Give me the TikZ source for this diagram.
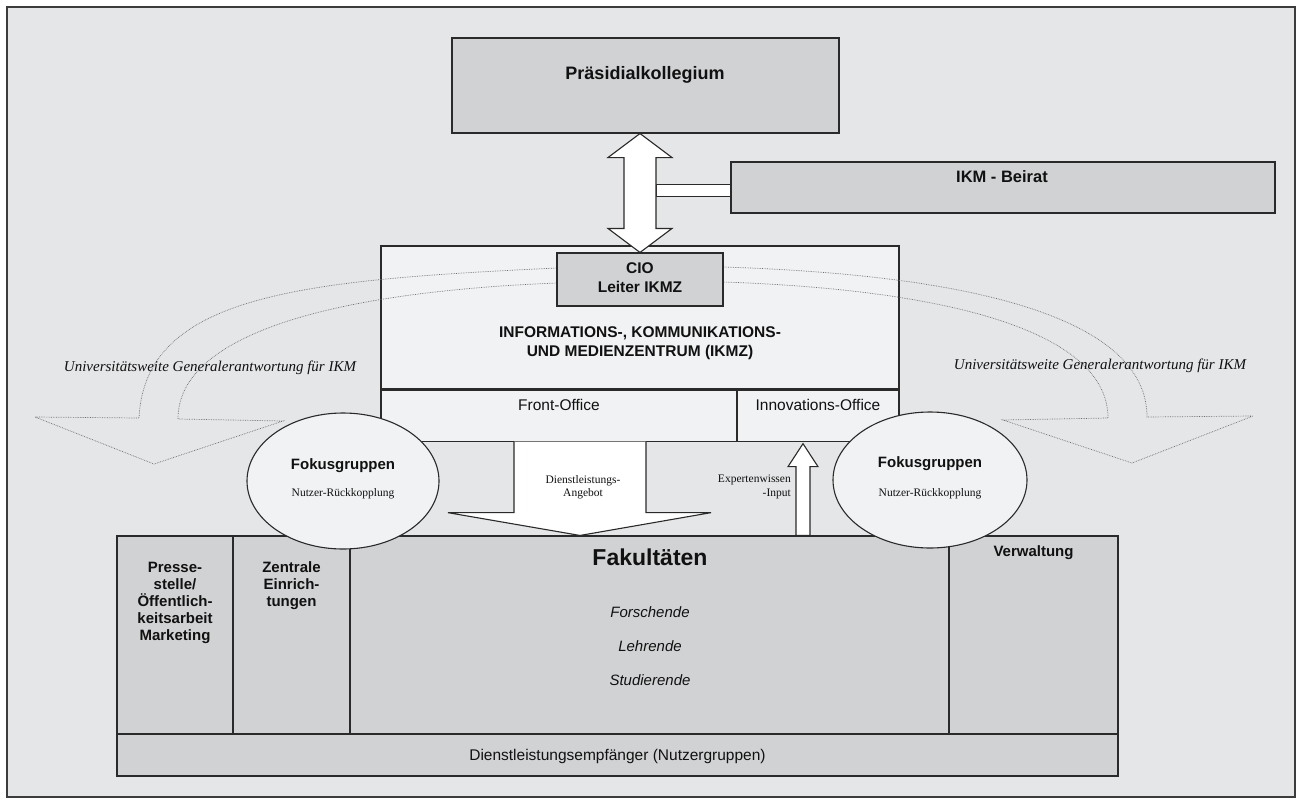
\documentclass[tikz,border=0pt]{standalone}
\usepackage{fontspec}
\setmainfont{Liberation Serif}
\setsansfont{Liberation Sans}
\usetikzlibrary{shapes.geometric,calc}
\definecolor{bgc}{HTML}{E5E6E8}
\definecolor{boxc}{HTML}{D1D2D4}
\definecolor{lightc}{HTML}{F1F2F4}
\definecolor{linec}{HTML}{2A2A2A}
\definecolor{borderc}{HTML}{3C3C3C}
\definecolor{dotc}{HTML}{6E6E6E}
\definecolor{txtc}{HTML}{111111}
\begin{document}
\begin{tikzpicture}[x=1pt,y=-1pt,
  graybox/.style={draw=linec, line width=1.1pt, fill=boxc, inner sep=0pt, rectangle},
  lightbox/.style={draw=linec, line width=1.1pt, fill=lightc, inner sep=0pt, rectangle},
  blockarrow/.style={draw=linec, line width=1.1pt, fill=white, line join=miter},
  dotarrow/.style={draw=dotc, densely dotted, line width=0.7pt},
  txt/.style={inner sep=0pt, align=center, text=txtc},
  boldtxt/.style={txt, font=\sffamily\bfseries\fontsize{15}{17}\selectfont},
  regtxt/.style={txt, font=\sffamily\fontsize{15.5}{18}\selectfont},
  serifsmall/.style={txt, font=\rmfamily\fontsize{11.5}{13.5}\selectfont},
  serifit/.style={txt, font=\rmfamily\itshape\fontsize{15}{17}\selectfont},
  sfit/.style={txt, font=\sffamily\itshape\fontsize{15}{17}\selectfont}
]
\useasboundingbox (0,0) rectangle (1299,804);
\fill[white] (0,0) rectangle (1299,804);
\draw[fill=bgc, draw=borderc, line width=2pt] (7,7) rectangle (1295,797);

% top boxes
\node[graybox, minimum width=387, minimum height=95] (praes) at (645.5,85.5) {};
\node[graybox, minimum width=544, minimum height=51] (beirat) at (1003,187.5) {};

% IKMZ
\node[lightbox, minimum width=518, minimum height=143] (ikmz) at (640,317.5) {};
\node[lightbox, minimum width=356, minimum height=51, anchor=north west] (front) at (ikmz.south west) {};
\node[lightbox, minimum width=162, minimum height=51, anchor=north east] (innov) at (ikmz.south east) {};

% dotted curved arrows
\draw[dotarrow] (557,268) .. controls (300,280) and (145,295) .. (139,418)
  -- (35,417) -- (154,464) -- (283,421) -- (178,419)
  .. controls (178,335) and (330,292) .. (557,283) -- cycle;
\draw[dotarrow] (723,267) .. controls (980,275) and (1147,320) .. (1147,417)
  -- (1253,416) -- (1132,463) -- (1003,420) -- (1108,418)
  .. controls (1108,335) and (960,290) .. (723,282) -- cycle;

% CIO
\node[graybox, minimum width=166, minimum height=53] (cio) at (640,279.5) {};

% bar to Beirat and double arrow
\coordinate (dt) at (cio.north |- praes.south);
\coordinate (barA) at ($(dt)+(16,51)$);
\coordinate (barB) at ($(dt)+(16,63)$);
\draw[blockarrow] (barA) rectangle (beirat.west |- barB);
\draw[blockarrow] (dt) -- ++(32,24) -- ++(-16,0) -- ($(cio.north)+(16,-24)$) -- ++(16,0)
  -- (cio.north) -- ++(-32,-24) -- ++(16,0) -- ($(dt)+(-16,24)$) -- ++(-16,0) -- cycle;

% bottom boxes
\node[graybox, minimum width=116, minimum height=198] (presse) at (175,635) {};
\node[graybox, minimum width=117, minimum height=198] (zentral) at (291.5,635) {};
\node[graybox, minimum width=599, minimum height=198] (fak) at (649.5,635) {};
\node[graybox, minimum width=169, minimum height=198] (verw) at (1033.5,635) {};
\node[graybox, minimum width=1001, minimum height=42] (empf) at (617.5,755) {};

% Dienstleistungs arrow
\coordinate (dlt) at ($(front.south)+(21,0)$);
\draw[blockarrow] ($(dlt)+(-66,0)$) -- ($(dlt)+(-66,71)$) -- ($(dlt)+(-132,71)$)
  -- (dlt |- fak.north) -- ($(dlt)+(131,71)$) -- ($(dlt)+(66,71)$) -- ($(dlt)+(66,0)$);

% Expertenwissen arrow
\coordinate (ext) at ($(innov.south)+(-15,2)$);
\draw[blockarrow] (ext) -- ++(15,23) -- ++(-8,0) -- ($(ext |- fak.north)+(7,0)$) -- ++(-14,0)
  -- ($(ext)+(-7,23)$) -- ++(-8,0) -- cycle;

% ellipses
\node[ellipse, draw=linec, line width=1.1pt, fill=lightc, minimum width=192, minimum height=136, inner sep=0pt] (ellL) at (343,481) {};
\node[ellipse, draw=linec, line width=1.1pt, fill=lightc, minimum width=194, minimum height=136, inner sep=0pt] (ellR) at (930,480) {};

% texts
\node[txt, font=\sffamily\bfseries\fontsize{18}{21}\selectfont] (tpraes) at (645,75) {Präsidialkollegium};
\node[txt, font=\sffamily\bfseries\fontsize{16.5}{19}\selectfont] (tbeirat) at (1002,177) {IKM - Beirat};
\node[txt, font=\sffamily\bfseries\fontsize{15.5}{19}\selectfont] (tcio) at (640,278) {CIO\\Leiter IKMZ};
\node[txt, font=\sffamily\bfseries\fontsize{15.5}{19}\selectfont] (tikmz) at (640,343) {INFORMATIONS-, KOMMUNIKATIONS-\\UND MEDIENZENTRUM (IKMZ)};
\node[regtxt] (tfront) at (559,405) {Front-Office};
\node[regtxt] (tinnov) at (818,405) {Innovations-Office};
\node[serifsmall] (tdl) at (583,487) {Dienstleistungs-\\Angebot};
\node[serifsmall, align=right, anchor=east] (tex) at (791,487) {Expertenwissen\\-Input};
\node[boldtxt] (tfokL) at (343,466) {Fokusgruppen};
\node[serifsmall] (tnutzL) at (343,494) {Nutzer-Rückkopplung};
\node[boldtxt] (tfokR) at (930,464) {Fokusgruppen};
\node[serifsmall] (tnutzR) at (930,494) {Nutzer-Rückkopplung};
\node[serifit] (tuniL) at (210,368) {Universitätsweite Generalerantwortung für IKM};
\node[serifit] (tuniR) at (1100,366) {Universitätsweite Generalerantwortung für IKM};
\node[txt, font=\sffamily\bfseries\fontsize{23}{26}\selectfont] (tfak) at (650,557) {Fakultäten};
\node[sfit] (tforsch) at (650,612) {Forschende};
\node[sfit] (tlehr) at (650,646) {Lehrende};
\node[sfit] (tstud) at (650,680) {Studierende};
\node[boldtxt] (tpresse) at (175,603) {Presse-\\stelle/\\Öffentlich-\\keitsarbeit\\Marketing};
\node[boldtxt] (tzent) at (291.5,586) {Zentrale\\Einrich-\\tungen};
\node[boldtxt] (tverw) at (1033.5,553) {Verwaltung};
\node[regtxt] (tempf) at (617.5,756) {Dienstleistungsempfänger (Nutzergruppen)};
\end{tikzpicture}
\end{document}
